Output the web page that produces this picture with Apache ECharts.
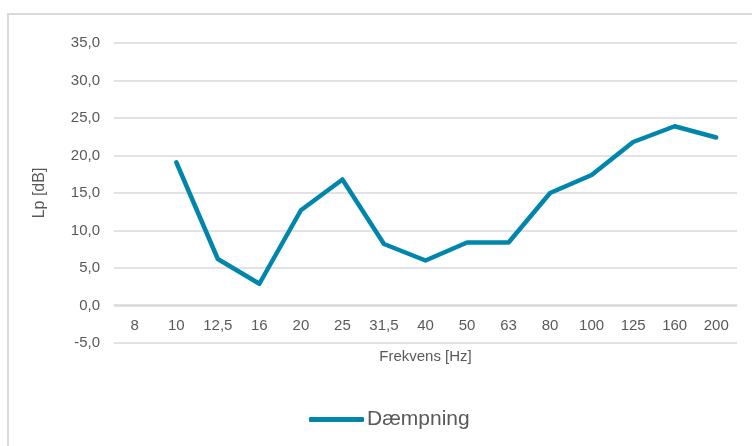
<!DOCTYPE html>
<html>
<head>
<meta charset="utf-8">
<script src="https://cdn.jsdelivr.net/npm/echarts@6/dist/echarts.min.js"></script>
<style>
html,body{margin:0;padding:0;background:#fff;}
#frame{position:absolute;left:7px;top:13px;width:760px;height:450px;border:2px solid #d9d9d9;box-sizing:border-box;}
#chart{position:absolute;left:0;top:0;width:752px;height:446px;}
</style>
</head>
<body>
<div id="frame"></div>
<div id="chart"></div>
<script>
const categories = ['8','10','12,5','16','20','25','31,5','40','50','63','80','100','125','160','200'];
const values = [null, 19.1, 6.2, 2.9, 12.7, 16.8, 8.2, 6.0, 8.4, 8.4, 15.0, 17.4, 21.8, 23.9, 22.4];
const seriesName = 'Dæmpning';
const yTitle = 'Lp [dB]';
const xTitle = 'Frekvens [Hz]';

const FONT = '"Liberation Sans", Arial, sans-serif';
const chart = echarts.init(document.getElementById('chart'), null, {renderer:'canvas'});
chart.setOption({
  animation: false,
  textStyle: {fontFamily: FONT},
  grid: {left: 114, right: 15, top: 43, bottom: 103, containLabel: false},
  legend: {
    data: [{name: seriesName, icon: 'roundRect'}],
    left: 304, top: 404,
    itemWidth: 55, itemHeight: 5, itemGap: 4,
    textStyle: {fontSize: 21, color: '#595959', fontFamily: FONT, padding: [0, 0, 0, -2]}
  },
  xAxis: {
    type: 'category',
    data: categories,
    boundaryGap: true,
    offset: -38,
    axisLine: {show: true, onZero: false, lineStyle: {color: '#d9d9d9', width: 1.5}},
    axisTick: {show: false},
    axisLabel: {color: '#595959', fontSize: 15, margin: 13, interval: 0},
    name: xTitle,
    nameLocation: 'middle',
    nameGap: 44,
    nameMoveOverlap: false,
    nameTextStyle: {color: '#595959', fontSize: 15}
  },
  yAxis: {
    type: 'value',
    min: -5, max: 35, interval: 5,
    axisLine: {show: false},
    axisTick: {show: false},
    splitLine: {lineStyle: {color: '#d9d9d9', width: 1.5}},
    axisLabel: {color: '#595959', fontSize: 15, margin: 14,
      formatter: v => v.toFixed(1).replace('.', ',')},
    name: yTitle,
    nameLocation: 'middle',
    nameGap: 66,
    nameRotate: 90,
    nameTextStyle: {color: '#595959', fontSize: 16}
  },
  series: [{
    name: seriesName,
    type: 'line',
    data: values,
    symbol: 'none',
    connectNulls: false,
    lineStyle: {color: '#0086AB', width: 4.5, cap: 'round', join: 'round'},
    itemStyle: {color: '#0086AB'}
  }]
});
</script>
</body>
</html>
